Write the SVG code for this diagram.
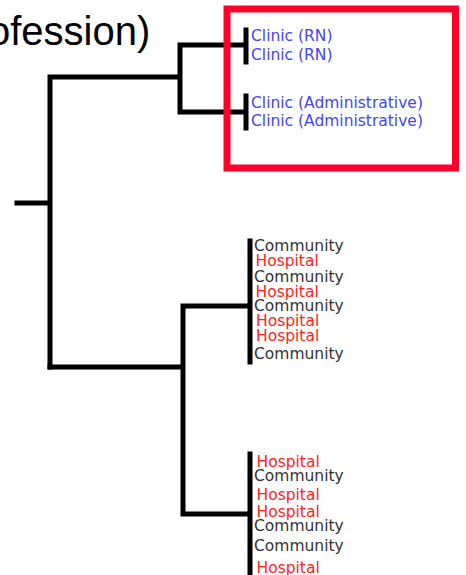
<svg xmlns="http://www.w3.org/2000/svg" width="466" height="575" viewBox="0 0 466 575">
<style>
.ln{fill:none;stroke:#000;stroke-width:5;stroke-linecap:square}
.t{font-family:"DejaVu Sans",Verdana,sans-serif;font-size:15.5px}
.cl{fill:#4444ff}
.co{fill:#333333}
.ho{fill:#ff2222}
.ttl{font-family:"Liberation Sans",Arial,sans-serif;font-size:40px;fill:#000}
</style>
<rect width="466" height="575" fill="#fff"/>
<text id="title" class="ttl" x="-12" y="45">ofession)</text>
<g id="connectors">
<path class="ln" d="M17,203 H50 M50,77 V367 M50,77 H180 M180,45 V112 M180,45 H245 M180,112 H245 M246,30 V62 M246,96 V128"/>
<path class="ln" d="M50,367 H183 M183,306 V514 M183,306 H250 M183,514 H250 M250,241 V362 M250,454 V580"/>
</g>
<g id="highlight">
<rect x="227" y="9" width="228.5" height="159" fill="none" stroke="#ff0028" stroke-width="7"/>
</g>
<g id="clinic-rn">
<text class="t cl" x="251" y="41">Clinic (RN)</text>
<text class="t cl" x="251" y="59.5">Clinic (RN)</text>
</g>
<g id="clinic-admin">
<text class="t cl" x="251" y="107.5">Clinic (Administrative)</text>
<text class="t cl" x="251" y="126">Clinic (Administrative)</text>
</g>
<g id="group-a">
<text class="t co" x="254" y="251">Community</text>
<text class="t ho" x="255.5" y="266">Hospital</text>
<text class="t co" x="254" y="282">Community</text>
<text class="t ho" x="255.5" y="297">Hospital</text>
<text class="t co" x="254" y="310.5">Community</text>
<text class="t ho" x="256" y="326">Hospital</text>
<text class="t ho" x="256" y="340.5">Hospital</text>
<text class="t co" x="254" y="358.5">Community</text>
</g>
<g id="group-b">
<text class="t ho" x="256.5" y="467">Hospital</text>
<text class="t co" x="254" y="481">Community</text>
<text class="t ho" x="256.5" y="500">Hospital</text>
<text class="t ho" x="256.5" y="516.5">Hospital</text>
<text class="t co" x="254" y="531">Community</text>
<text class="t co" x="254" y="550.5">Community</text>
<text class="t ho" x="256.5" y="573">Hospital</text>
</g>
</svg>
